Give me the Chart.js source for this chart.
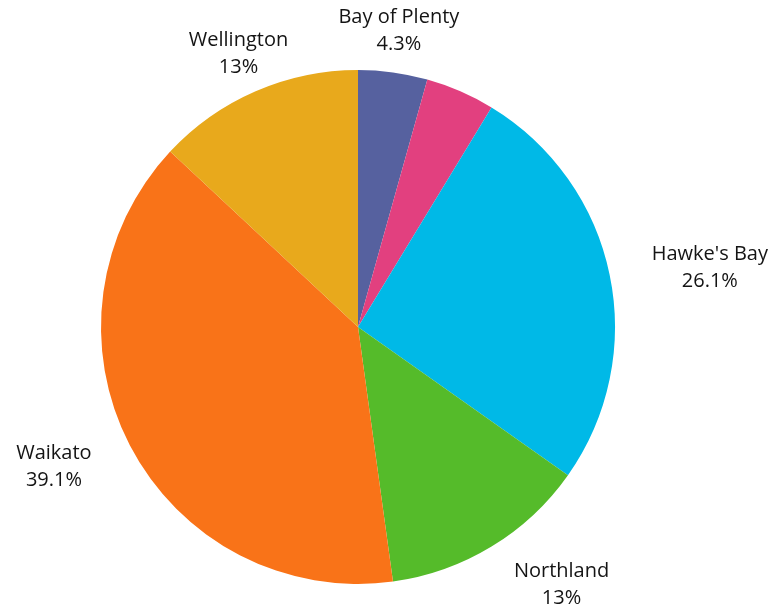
<!DOCTYPE html>
<html lang="en">
  <head>
    <meta charset="utf-8">
    <title>Regions</title>
    <script src="https://cdn.jsdelivr.net/npm/chart.js@4.4.1/dist/chart.umd.min.js"></script>
    <style>
      body { margin: 0; background: #fff; }
    </style>
  </head>
  <body>
    <canvas id="myChart" width="774" height="610"></canvas>
    <script>
      // counts per region (23 in total)
      const regions = ["Bay of Plenty", "", "Hawke's Bay", "Northland", "Waikato", "Wellington"];
      const counts = [1, 1, 6, 3, 9, 3];
      const percentLabels = ["4.3%", "", "26.1%", "13%", "39.1%", "13%"];
      const colours = ["#56619f", "#e2407f", "#00b9e7", "#55bb2a", "#f97318", "#e8a91c"];

      // two line labels outside each slice: centred near the top/bottom,
      // pushed to one side of the anchor point elsewhere
      const outsideLabels = {
        id: 'outsideLabels',
        afterDraw(chart) {
          const ctx = chart.ctx;
          const arcs = chart.getDatasetMeta(0).data;
          ctx.save();
          ctx.font = '20px "Open Sans"';
          ctx.fillStyle = '#141414';
          ctx.textAlign = 'center';
          ctx.textBaseline = 'middle';
          arcs.forEach(function (arc, i) {
            if (!regions[i]) return;
            const mid = (arc.startAngle + arc.endAngle) / 2;
            const cosA = Math.cos(mid), sinA = Math.sin(mid);
            const w = Math.max(ctx.measureText(regions[i]).width, ctx.measureText(percentLabels[i]).width);
            const r = arc.outerRadius + 43;
            let x = arc.x + r * cosA;
            const y = arc.y + r * sinA;
            if (Math.abs(cosA) > 0.45) x += (cosA > 0 ? 1 : -1) * w / 2;
            ctx.fillText(regions[i], x, y - 12);
            ctx.fillText(percentLabels[i], x, y + 15);
          });
          ctx.restore();
        }
      };

      new Chart(document.getElementById("myChart"), {
        type: 'pie',
        data: {
          labels: regions,
          datasets: [{
            data: counts,
            backgroundColor: colours,
            borderWidth: 0
          }]
        },
        options: {
          responsive: false,
          animation: false,
          layout: { padding: { top: 70, bottom: 26, left: 101, right: 159 } },
          plugins: {
            legend: { display: false },
            tooltip: { enabled: false }
          }
        },
        plugins: [outsideLabels]
      });
    </script>
  </body>
</html>
